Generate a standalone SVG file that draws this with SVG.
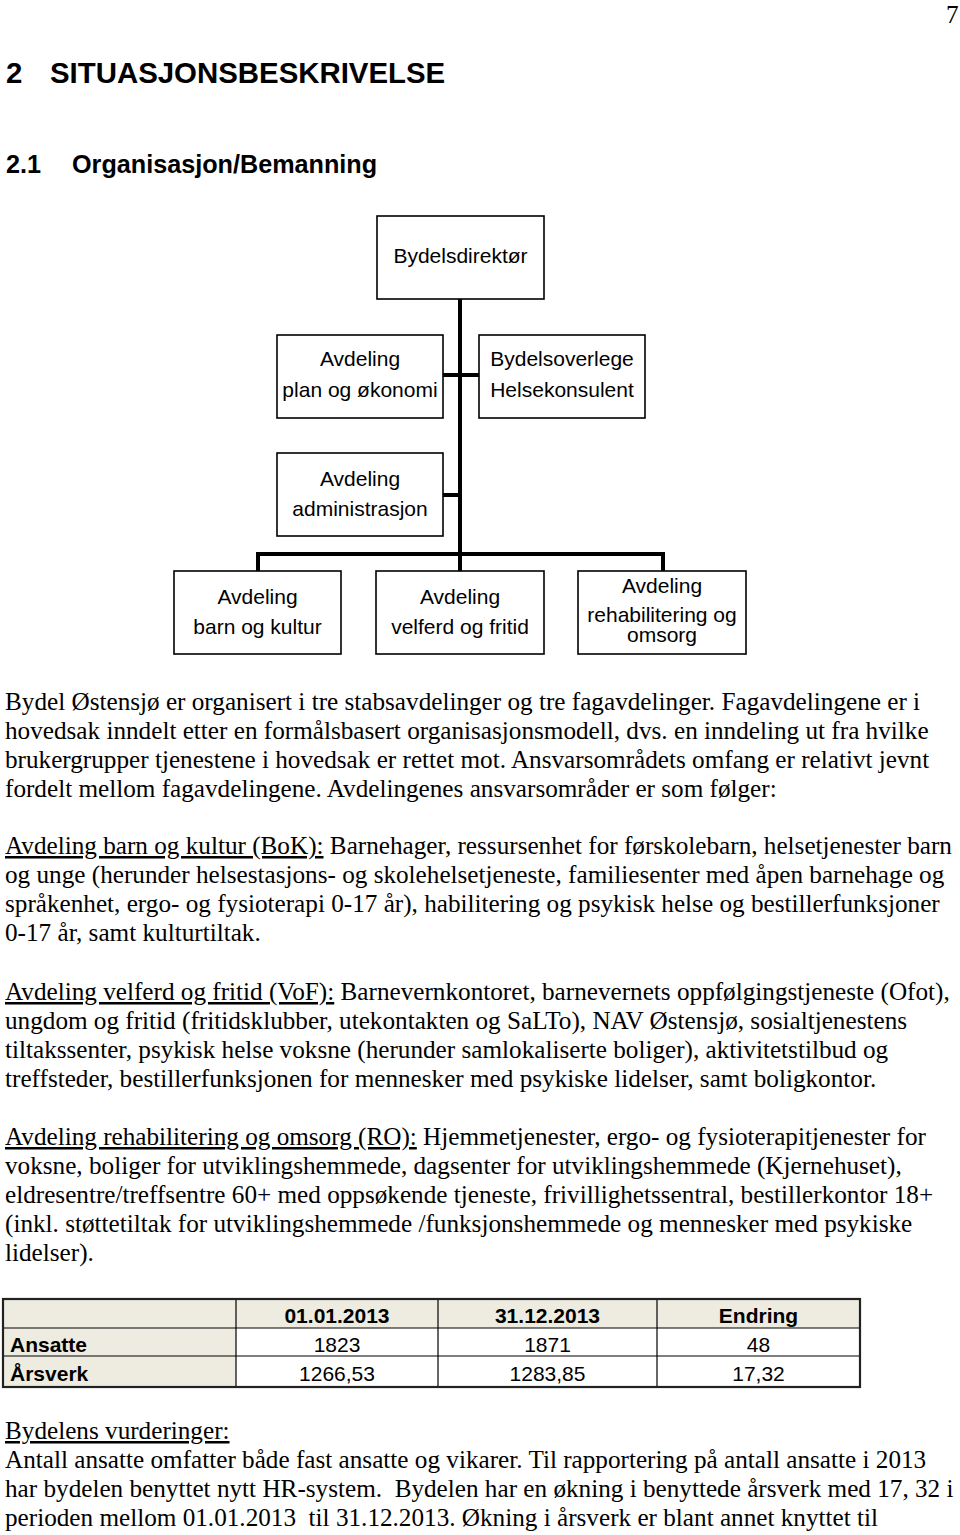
<svg xmlns="http://www.w3.org/2000/svg" width="960" height="1535" viewBox="0 0 960 1535">
<style>
.box{fill:#fff;stroke:#000;stroke-width:1.6}
.bt{font-family:"Liberation Sans",Arial,sans-serif;font-size:21px;fill:#000;text-anchor:middle}
.con{stroke:#000;stroke-width:4;fill:none;stroke-linecap:square}
.body{font-family:"Liberation Serif","Times New Roman",serif;font-size:25.2px;fill:#000}
.u{text-decoration:underline}
.h{font-family:"Liberation Sans",Arial,sans-serif;font-weight:bold;fill:#000}
.tt{font-family:"Liberation Sans",Arial,sans-serif;font-size:21px;fill:#000}
.tb{font-weight:bold}
.mid{text-anchor:middle}
.cell{fill:#eeece1}
</style>
<rect width="960" height="1535" fill="#fff"/>
<text x="946" y="23" class="body">7</text>
<text x="6" y="83" class="h" font-size="29.4">2</text>
<text x="50" y="83" class="h" font-size="29.4">SITUASJONSBESKRIVELSE</text>
<text x="6" y="173" class="h" font-size="25.2">2.1</text>
<text x="72" y="173" class="h" font-size="25.2">Organisasjon/Bemanning</text>

<g id="connectors">
<line class="con" x1="460" y1="299" x2="460" y2="554"/>
<line class="con" x1="443" y1="375" x2="479" y2="375"/>
<line class="con" x1="443" y1="495" x2="460" y2="495"/>
<line class="con" x1="258" y1="554" x2="663" y2="554"/>
<line class="con" x1="258" y1="554" x2="258" y2="571"/>
<line class="con" x1="663" y1="554" x2="663" y2="571"/>
<line class="con" x1="460" y1="554" x2="460" y2="571"/>
</g>

<g id="n-direktor">
<rect class="box" x="377" y="216" width="167" height="83"/>
<text class="bt" x="460.5" y="263">Bydelsdirektør</text>
</g>
<g id="n-plan">
<rect class="box" x="277" y="335" width="166" height="83"/>
<text class="bt" x="360" y="366">Avdeling</text>
<text class="bt" x="360" y="397">plan og økonomi</text>
</g>
<g id="n-overlege">
<rect class="box" x="479" y="335" width="166" height="83"/>
<text class="bt" x="562" y="366">Bydelsoverlege</text>
<text class="bt" x="562" y="397">Helsekonsulent</text>
</g>
<g id="n-admin">
<rect class="box" x="277" y="453" width="166" height="83"/>
<text class="bt" x="360" y="486">Avdeling</text>
<text class="bt" x="360" y="516">administrasjon</text>
</g>
<g id="n-bok">
<rect class="box" x="174" y="571" width="167" height="83"/>
<text class="bt" x="257.5" y="604">Avdeling</text>
<text class="bt" x="257.5" y="634">barn og kultur</text>
</g>
<g id="n-vof">
<rect class="box" x="376" y="571" width="168" height="83"/>
<text class="bt" x="460" y="604">Avdeling</text>
<text class="bt" x="460" y="634">velferd og fritid</text>
</g>
<g id="n-ro">
<rect class="box" x="578" y="571" width="168" height="83"/>
<text class="bt" x="662" y="593">Avdeling</text>
<text class="bt" x="662" y="622">rehabilitering og</text>
<text class="bt" x="662" y="642">omsorg</text>
</g>

<g id="body-text">
<text class="body" x="5" y="710">Bydel Østensjø er organisert i tre stabsavdelinger og tre fagavdelinger. Fagavdelingene er i</text>
<text class="body" x="5" y="739">hovedsak inndelt etter en formålsbasert organisasjonsmodell, dvs. en inndeling ut fra hvilke</text>
<text class="body" x="5" y="768">brukergrupper tjenestene i hovedsak er rettet mot. Ansvarsområdets omfang er relativt jevnt</text>
<text class="body" x="5" y="797">fordelt mellom fagavdelingene. Avdelingenes ansvarsområder er som følger:</text>

<text class="body" x="5" y="854"><tspan class="u">Avdeling barn og kultur (BoK):</tspan> Barnehager, ressursenhet for førskolebarn, helsetjenester barn</text>
<text class="body" x="5" y="883">og unge (herunder helsestasjons- og skolehelsetjeneste, familiesenter med åpen barnehage og</text>
<text class="body" x="5" y="912">språkenhet, ergo- og fysioterapi 0-17 år), habilitering og psykisk helse og bestillerfunksjoner</text>
<text class="body" x="5" y="941">0-17 år, samt kulturtiltak.</text>

<text class="body" x="5" y="1000"><tspan class="u">Avdeling velferd og fritid (VoF):</tspan> Barnevernkontoret, barnevernets oppfølgingstjeneste (Ofot),</text>
<text class="body" x="5" y="1029">ungdom og fritid (fritidsklubber, utekontakten og SaLTo), NAV Østensjø, sosialtjenestens</text>
<text class="body" x="5" y="1058">tiltakssenter, psykisk helse voksne (herunder samlokaliserte boliger), aktivitetstilbud og</text>
<text class="body" x="5" y="1087">treffsteder, bestillerfunksjonen for mennesker med psykiske lidelser, samt boligkontor.</text>

<text class="body" x="5" y="1145"><tspan class="u">Avdeling rehabilitering og omsorg (RO):</tspan> Hjemmetjenester, ergo- og fysioterapitjenester for</text>
<text class="body" x="5" y="1174">voksne, boliger for utviklingshemmede, dagsenter for utviklingshemmede (Kjernehuset),</text>
<text class="body" x="5" y="1203">eldresentre/treffsentre 60+ med oppsøkende tjeneste, frivillighetssentral, bestillerkontor 18+</text>
<text class="body" x="5" y="1232">(inkl. støttetiltak for utviklingshemmede /funksjonshemmede og mennesker med psykiske</text>
<text class="body" x="5" y="1261">lidelser).</text>
</g>

<g id="table">
<rect x="3" y="1299" width="857" height="29" class="cell"/>
<rect x="3" y="1328" width="233" height="59" class="cell"/>
<g stroke="#000" stroke-width="1.2">
<line x1="3" y1="1328" x2="860" y2="1328"/>
<line x1="3" y1="1356" x2="860" y2="1356"/>
<line x1="236" y1="1299" x2="236" y2="1387"/>
<line x1="438" y1="1299" x2="438" y2="1387"/>
<line x1="657" y1="1299" x2="657" y2="1387"/>
</g>
<rect x="3" y="1299" width="857" height="88" fill="none" stroke="#222" stroke-width="2.2"/>
<text class="tt tb mid" x="337" y="1323">01.01.2013</text>
<text class="tt tb mid" x="547.5" y="1323">31.12.2013</text>
<text class="tt tb mid" x="758.5" y="1323">Endring</text>
<text class="tt tb" x="10" y="1352">Ansatte</text>
<text class="tt mid" x="337" y="1352">1823</text>
<text class="tt mid" x="547.5" y="1352">1871</text>
<text class="tt mid" x="758.5" y="1352">48</text>
<text class="tt tb" x="10" y="1381">Årsverk</text>
<text class="tt mid" x="337" y="1381">1266,53</text>
<text class="tt mid" x="547.5" y="1381">1283,85</text>
<text class="tt mid" x="758.5" y="1381">17,32</text>
</g>

<g id="assessment">
<text class="body u" x="5" y="1439">Bydelens vurderinger:</text>
<text class="body" x="5" y="1468">Antall ansatte omfatter både fast ansatte og vikarer. Til rapportering på antall ansatte i 2013</text>
<text class="body" x="5" y="1497">har bydelen benyttet nytt HR-system.&#160; Bydelen har en økning i benyttede årsverk med 17, 32 i</text>
<text class="body" x="5" y="1526">perioden mellom 01.01.2013&#160; til 31.12.2013. Økning i årsverk er blant annet knyttet til</text>
</g>
</svg>
